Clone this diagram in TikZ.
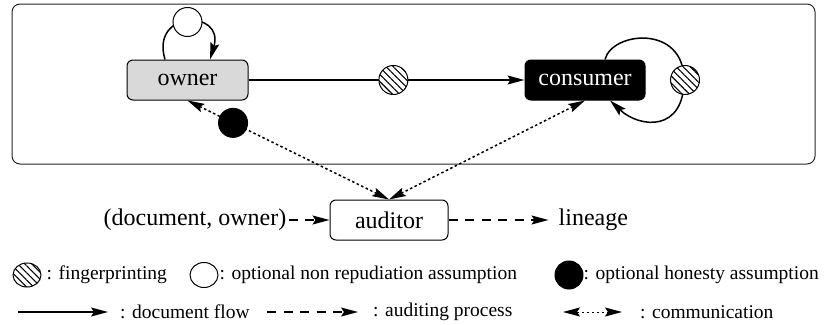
\documentclass[tikz,border=0pt]{standalone}
\usepackage{fontspec}
\setmainfont{Liberation Serif}
\usetikzlibrary{positioning, arrows.meta, patterns.meta, shapes.geometric}
\newcommand{\haupt}{\fontsize{24}{28}\selectfont}
\newcommand{\klein}{\fontsize{19.5}{23}\selectfont}
\tikzset{akteur/.style={rectangle,draw,line width=1pt,rounded corners=6pt,
		minimum width=121pt,minimum height=40pt,inner sep=0,font=\haupt},
	marke/.style={circle,draw,solid,line width=1pt,minimum size=29pt,inner sep=0},
	finger/.style={marke,preaction={fill=white},
		pattern={Lines[angle=-45,distance=5pt,line width=1.1pt]}},
	nonrep/.style={marke,fill=white},
	honest/.style={marke,fill=black},
	spitze/.tip={Stealth[length=17pt,width=9pt,inset=3pt]},
	flow/.style={line width=1.5pt,-spitze},
	audit/.style={flow,dash pattern=on 9pt off 7.5pt},
	comm/.style={line width=1.5pt,dash pattern=on 2.5pt off 2.5pt,spitze-spitze},
	legende/.style={font=\klein,inner sep=0},
	lmarke/.style={ellipse,minimum width=28pt,minimum height=25pt} }
\begin{document}
\begin{tikzpicture}[x=1pt,y=1pt]
  \useasboundingbox (0,0) rectangle (827,-324);
  \draw[line width=1pt,black!85,rounded corners=8pt] (12,-4) rectangle (815,-164);

  \node (owner) [akteur,fill=black!15] at (187.5,-80) {owner};
  \node (consumer) [akteur,fill=black,text=white,minimum width=120pt,right=276pt of owner] {consumer};
  \node (auditor) [akteur,minimum width=118pt] at (389,-220) {auditor};
  \node (eingabe) [left=41pt of auditor,font=\haupt,inner sep=2pt] {(document, owner)};
  \node (lineage) [right=108pt of auditor,font=\haupt,inner sep=2pt] {lineage};

  % document flow
  \draw[flow] (owner) -- node[finger,pos=0.525] (fp1) {} (consumer);
  \draw[flow] ([xshift=-22.5pt]owner.north) .. controls +(-15,50) and +(15,50) ..
  	([xshift=22.5pt]owner.north) node[nonrep,pos=0.5] (nr) {};
  \coordinate (kreis) at (684,-80);
  \draw[flow] ([xshift=20pt]consumer.north) .. controls +(7,28) and +(0,56) .. (kreis)
  	.. controls +(0,-52) and +(30,-28) .. ([xshift=25pt]consumer.south);
  \node (fp2) [finger] at (685,-80) {};

  % communication
  \draw[comm] (owner.south) -- node[honest,pos=0.226] (hon) {} (auditor.north);
  \draw[comm] (consumer.south) -- (auditor.north);

  % auditing
  \draw[audit] (eingabe) -- (auditor);
  \draw[audit,shorten >=8pt] (auditor) -- (lineage);

  % legend
  \node (lfp) [finger,lmarke,minimum height=24pt] at (27,-275) {};
  \node (tfp) [legende,right=5pt of lfp] {: fingerprinting};
  \node (lnr) [nonrep,lmarke] at (204,-275) {};
  \node (tnr) [legende,right=1pt of lnr] {: optional non repudiation assumption};
  \node (lhon) [honest,lmarke,minimum height=28pt] at (569,-275) {};
  \node (thon) [legende,right=0pt of lhon] {: optional honesty assumption};

  \coordinate (f1) at (18,-312);
  \coordinate (f2) at (108,-312);
  \draw[flow] (f1) -- (f2);
  \node (tflow) [legende,right=12pt of f2] {: document flow};
  \coordinate (a1) at (267,-312);
  \coordinate (a2) at (358,-312);
  \draw[audit] (a1) -- (a2);
  \node (taudit) [legende,right=15pt of a2] {: auditing process};
  \coordinate (c1) at (563,-312);
  \coordinate (c2) at (622,-312);
  \draw[comm,line width=1pt] (c1) -- (c2);
  \node (tcomm) [legende,right=18pt of c2] {: communication};
\end{tikzpicture}
\end{document}
